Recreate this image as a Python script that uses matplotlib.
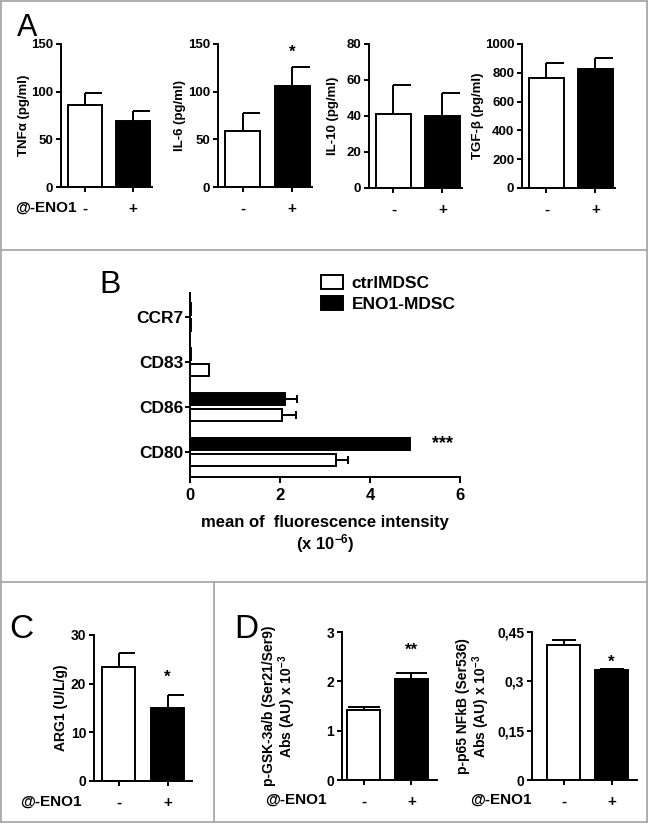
import matplotlib
matplotlib.use("Agg")
import matplotlib.pyplot as plt
import numpy as np
from matplotlib.lines import Line2D
from matplotlib.patches import Patch

plt.rcParams['font.family'] = ['Liberation Sans', 'DejaVu Sans']
plt.rcParams['font.weight'] = 'bold'
plt.rcParams['axes.labelweight'] = 'bold'
plt.rcParams['mathtext.fontset'] = 'custom'
plt.rcParams['mathtext.rm'] = 'Liberation Sans:bold'
plt.rcParams['mathtext.it'] = 'Liberation Sans:bold'
plt.rcParams['mathtext.bf'] = 'Liberation Sans:bold'

# ---------------- data ----------------
groups = ['-', '+']
treat_label = '@-ENO1'

tnf_mean = [86, 69]
tnf_err = [13, 11]
il6_mean = [59, 106]
il6_err = [19, 20]
il10_mean = [41, 40]
il10_err = [16, 13]
tgf_mean = [765, 825]
tgf_err = [100, 75]

markers = ['CD80', 'CD86', 'CD83', 'CCR7']
ctrl_mfi = [3.24, 2.05, 0.43, 0.02]
ctrl_mfi_err = [0.28, 0.30, 0.0, 0.0]
eno1_mfi = [4.89, 2.11, 0.03, 0.03]
eno1_mfi_err = [0.02, 0.27, 0.0, 0.0]
series_names = ['ctrlMDSC', 'ENO1-MDSC']

arg1_mean = [23.5, 15.0]
arg1_err = [2.9, 2.6]
gsk_mean = [1.42, 2.05]
gsk_err = [0.06, 0.12]
p65_mean = [0.41, 0.335]
p65_err = [0.015, 0.003]

W, H = 648, 825
fig = plt.figure(figsize=(W / 100, H / 100), dpi=100)
fig.patch.set_facecolor('white')

LW = 1.4


def add_ax(l, t, r, b):
    return fig.add_axes([l / W, 1 - b / H, (r - l) / W, (b - t) / H])


def style(ax):
    for s in ['top', 'right']:
        ax.spines[s].set_visible(False)
    for s in ['left', 'bottom']:
        ax.spines[s].set_linewidth(LW)
    ax.tick_params(width=LW, length=3.5, direction='out')


def bar_panel(px, mean, err, ylim, yticks, yticklabels, ylabel, xlim, width,
              lab_right, cap='half', star=None, ysize=9.5, ylab_size=9.5):
    l, t, r, b = px
    ax = add_ax(l, t, r, b)
    style(ax)
    x = np.arange(len(groups))
    mean = np.array(mean, float)
    err = np.array(err, float)
    ax.bar(x, mean, width, color=['white', 'black'], edgecolor='black',
           linewidth=LW, zorder=2)
    ax.vlines(x, mean, mean + err, color='black', lw=LW, zorder=3)
    if cap == 'half':
        ax.hlines(mean + err, x, x + width / 2, color='black', lw=LW, zorder=3)
    else:
        ax.hlines(mean + err, x - cap, x + cap, color='black', lw=LW, zorder=3)
    ax.set_xlim(*xlim)
    ax.set_ylim(*ylim)
    ax.set_yticks(yticks)
    ax.set_yticklabels(yticklabels, fontsize=ysize, fontweight='bold')
    ax.tick_params(axis='y', pad=2)
    ax.set_xticks(x)
    ax.set_xticklabels(groups, fontsize=11, fontweight='bold')
    ax.tick_params(axis='x', pad=7)
    ax.set_ylabel(ylabel, fontsize=ylab_size, fontweight='bold', linespacing=1.05)
    ax.yaxis.set_label_coords((lab_right - l) / (r - l), 0.5)
    if star is not None:
        ax.text(star[0], star[1], star[2], ha='center', va='center',
                fontsize=star[3], fontweight='bold')
    return ax


# ---------------- Panel A ----------------
bar_panel((61, 44, 152, 187), tnf_mean, tnf_err, (0, 150), [0, 50, 100, 150],
          ['0', '50', '100', '150'], 'TNF\u03b1 (pg/ml)', (-0.5, 1.4), 0.7, 30)
bar_panel((218, 44, 312, 187), il6_mean, il6_err, (0, 150), [0, 50, 100, 150],
          ['0', '50', '100', '150'], 'IL-6 (pg/ml)', (-0.5, 1.4), 0.7, 186,
          star=(1, 141, '*', 12))
bar_panel((369, 44, 462, 188), il10_mean, il10_err, (0, 80), [0, 20, 40, 60, 80],
          ['0', '20', '40', '60', '80'], 'IL-10 (pg/ml)', (-0.5, 1.4), 0.7, 339)
bar_panel((522, 44, 615, 188), tgf_mean, tgf_err, (0, 1000),
          [0, 200, 400, 600, 800, 1000],
          ['0', '200', '400', '600', '800', '1000'], 'TGF-\u03b2 (pg/ml)',
          (-0.5, 1.4), 0.7, 484)

fig.text(17 / W, 1 - 36 / H, 'A', fontsize=22, fontweight='normal', va='baseline')
fig.text(15 / W, 1 - 208 / H, treat_label, fontsize=11, fontweight='bold', va='center')

# ---------------- Panel B ----------------
axb = add_ax(190, 293, 460, 477)
style(axb)
axb.tick_params(length=4.5)
yb = np.arange(len(markers))
hb = 0.26
off = 0.18
axb.barh(yb + off, eno1_mfi, hb, color='black', edgecolor='black', lw=LW, zorder=2)
axb.barh(yb - off, ctrl_mfi, hb, color='white', edgecolor='black', lw=LW, zorder=2)
for vals, errs, dy in [(eno1_mfi, eno1_mfi_err, off), (ctrl_mfi, ctrl_mfi_err, -off)]:
    vals = np.array(vals); errs = np.array(errs)
    m = errs > 0.05
    axb.hlines(yb[m] + dy, vals[m], vals[m] + errs[m], color='black', lw=LW, zorder=1)
    axb.vlines(vals[m] + errs[m], yb[m] + dy - 0.09, yb[m] + dy + 0.09, color='black', lw=LW)
axb.set_xlim(0, 6)
axb.set_ylim(-0.55, 3.53)
axb.set_xticks([0, 2, 4, 6])
axb.set_xticklabels(['0', '2', '4', '6'], fontsize=12, fontweight='bold')
axb.set_yticks(yb)
axb.set_yticklabels(markers, fontsize=12.5, fontweight='bold')
axb.tick_params(axis='y', length=3.5, pad=1)
axb.text(5.6, 0 + off, '***', ha='center', va='center', fontsize=13, fontweight='bold')
axb.legend([Patch(facecolor='white', edgecolor='black', lw=LW),
            Patch(facecolor='black', edgecolor='black', lw=LW)], series_names,
           loc='upper left', bbox_to_anchor=(321 / W, 1 - 275 / H),
           bbox_transform=fig.transFigure, frameon=False, fontsize=12.5,
           handlelength=1.25, handleheight=0.85, handletextpad=0.5,
           labelspacing=0.3, borderaxespad=0, borderpad=0)
fig.text(325 / W, 1 - 522 / H, 'mean of  fluorescence intensity', ha='center',
         va='center', fontsize=12, fontweight='bold')
fig.text(325 / W, 1 - 544 / H, '(x 10$^{\\mathregular{-6}}$)', ha='center',
         va='center', fontsize=12, fontweight='bold')
fig.text(99 / W, 1 - 293 / H, 'B', fontsize=23, fontweight='normal', va='baseline')

# ---------------- Panel C ----------------
bar_panel((94, 635, 192, 781), arg1_mean, arg1_err, (0, 30), [0, 10, 20, 30],
          ['0', '10', '20', '30'], 'ARG1 (U/L/g)', (-0.5, 1.5), 0.68, 68,
          star=(1, 21.3, '*', 12), ysize=10, ylab_size=10)
fig.text(9 / W, 1 - 638 / H, 'C', fontsize=24, fontweight='normal', va='baseline')
fig.text(20 / W, 1 - 802 / H, treat_label, fontsize=11, fontweight='bold', va='center')

# ---------------- Panel D ----------------
bar_panel((342, 632, 437, 780), gsk_mean, gsk_err, (0, 3), [0, 1, 2, 3],
          ['0', '1', '2', '3'],
          'p-GSK-3a/b (Ser21/Ser9)\nAbs (AU) x 10$^{\\mathregular{-3}}$',
          (-0.46, 1.54), 0.69, 298, cap=0.33, star=(1, 2.62, '**', 12),
          ysize=10, ylab_size=10)
bar_panel((532, 632, 637, 780), p65_mean, p65_err, (0, 0.45), [0, 0.15, 0.3, 0.45],
          ['0', '0,15', '0,3', '0,45'],
          'p-p65 NFkB (Ser536)\nAbs (AU) x 10$^{\\mathregular{-3}}$',
          (-0.66, 1.53), 0.69, 492, cap=0.25, star=(1, 0.357, '*', 12),
          ysize=10, ylab_size=10)
fig.text(234 / W, 1 - 638 / H, 'D', fontsize=24, fontweight='normal', va='baseline')
fig.text(265 / W, 1 - 800 / H, treat_label, fontsize=11, fontweight='bold', va='center')
fig.text(470 / W, 1 - 800 / H, treat_label, fontsize=11, fontweight='bold', va='center')

# ---------------- panel frames ----------------
gc = '#a8a8a8'
def fline(x0, y0, x1, y1):
    fig.add_artist(Line2D([x0 / W, x1 / W], [1 - y0 / H, 1 - y1 / H],
                          color=gc, lw=1.3, transform=fig.transFigure))

fline(1, 1, 647, 1)
fline(1, 822, 647, 822)
fline(1, 1, 1, 822)
fline(647, 1, 647, 822)
fline(1, 250, 647, 250)
fline(1, 582, 647, 582)
fline(214, 582, 214, 822)

fig.savefig('out.png', dpi=100, facecolor='white')
